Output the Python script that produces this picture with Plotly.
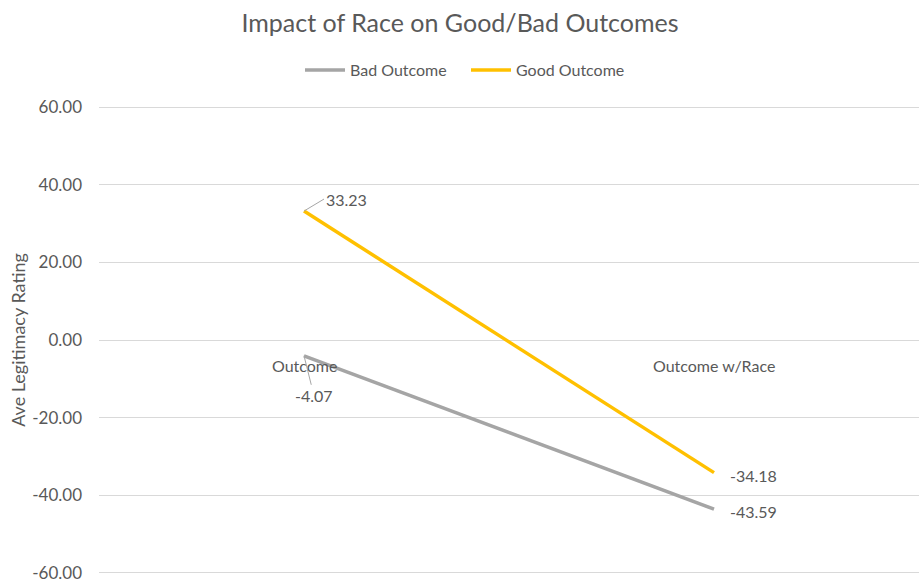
import plotly.graph_objects as go

categories = ["Outcome", "Outcome w/Race"]
bad_outcome = [-4.07, -43.59]
good_outcome = [33.23, -34.18]
y_ticks = [-60, -40, -20, 0, 20, 40, 60]
y_tick_labels = ["-60.00", "-40.00", "-20.00", "0.00", "20.00", "40.00", "60.00"]

FONT = "Lato, Carlito, Calibri, sans-serif"
TXT = "#595959"
FS = 16

fig = go.Figure()
fig.add_trace(go.Scatter(x=categories, y=bad_outcome, mode="lines", name="Bad Outcome",
                         line=dict(color="#A5A5A5", width=3.5), cliponaxis=False))
fig.add_trace(go.Scatter(x=categories, y=good_outcome, mode="lines", name="Good Outcome",
                         line=dict(color="#FFC000", width=3.5), cliponaxis=False))

# category labels sitting on the zero line
for c in categories:
    fig.add_annotation(x=c, y=0, xref="x", yref="y", text=c, showarrow=False,
                       yanchor="top", yshift=-14, font=dict(size=FS, color=TXT, family=FONT))

# data labels
fig.add_annotation(x=categories[0], y=good_outcome[0], text=f"{good_outcome[0]:.2f}",
                   showarrow=True, arrowhead=0, arrowwidth=1, arrowcolor="#A6A6A6",
                   ax=20, ay=-12, xanchor="left", yanchor="middle", standoff=0,
                   font=dict(size=FS, color=TXT, family=FONT))
fig.add_annotation(x=categories[0], y=bad_outcome[0], text=f"{bad_outcome[0]:.2f}",
                   showarrow=True, arrowhead=0, arrowwidth=1, arrowcolor="#A6A6A6",
                   ax=10, ay=40, xanchor="center", yanchor="middle", standoff=0,
                   font=dict(size=FS, color=TXT, family=FONT))
for vals, ys in ((good_outcome, -3), (bad_outcome, -2)):
    fig.add_annotation(x=categories[1], y=vals[1], text=f"{vals[1]:.2f}", showarrow=False,
                       xanchor="left", yanchor="middle", xshift=14, yshift=ys,
                       font=dict(size=FS, color=TXT, family=FONT))

fig.update_layout(
    width=920, height=582,
    margin=dict(l=99, r=1, t=106, b=8, autoexpand=False),
    paper_bgcolor="white", plot_bgcolor="white",
    font=dict(family=FONT, color=TXT, size=FS),
    title=dict(text="Impact of Race on Good/Bad Outcomes", x=0.5, xref="container",
               y=1 - 23 / 582, yref="container", yanchor="middle", xanchor="center",
               font=dict(size=25, color=TXT, family=FONT)),
    legend=dict(orientation="h", xref="container", yref="container",
                x=300 / 920, y=1 - 70 / 582, xanchor="left", yanchor="middle",
                font=dict(size=FS, color=TXT, family=FONT), itemwidth=40,
                entrywidth=111, entrywidthmode="pixels", tracegroupgap=0),
    xaxis=dict(type="category", range=[-0.5, 1.5], showticklabels=False,
               showgrid=False, zeroline=False, showline=False, ticks=""),
    yaxis=dict(range=[-60.3, 60.3], tickvals=y_ticks, ticktext=y_tick_labels,
               showgrid=True, gridcolor="#D9D9D9", gridwidth=1, zeroline=False,
               showline=False, ticks="", ticklabelstandoff=16, ticklabeloverflow="allow",
               tickfont=dict(size=17, color=TXT, family=FONT),
               title=dict(text="Ave Legitimacy Rating", standoff=1,
                          font=dict(size=18, color=TXT, family=FONT))),
)

fig.write_html("out.html", config={"displayModeBar": False},
               post_script="document.body.style.margin='0px';")
